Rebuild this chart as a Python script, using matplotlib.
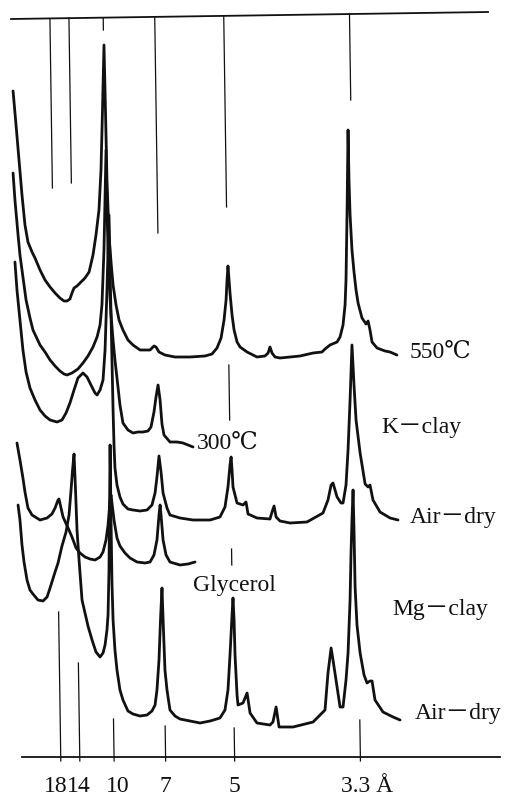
import numpy as np
import matplotlib
matplotlib.use("Agg")  # sem GUI
import matplotlib.pyplot as plt

# ===============================
# dados lidos da figura
# x = 2theta (graus, Cu Ka), y = intensidade (unid. arbitrarias)
# ===============================
LAMBDA_CU = 1.5418

# K-clay 550 C
k550_2t = [1.39, 1.61, 1.83, 2.05, 2.27, 2.49, 2.79, 3.01, 3.38, 3.75, 4.12, 4.49, 4.85, 5.15,
           5.37, 5.59, 5.74, 5.89, 6.11, 6.33, 6.70, 7.00, 7.29, 7.51, 7.73, 7.88, 7.99, 8.10,
           8.21, 8.32, 8.47, 8.62, 8.77, 8.99, 9.21, 9.50, 9.87, 10.24, 10.76, 11.50, 11.79,
           11.94, 12.16, 12.60, 13.34, 14.45, 15.56, 16.07, 16.44, 16.74, 16.96, 17.11, 17.18,
           17.25, 17.33, 17.40, 17.55, 17.70, 17.92, 18.14, 18.66, 19.39, 19.98, 20.21, 20.35,
           20.50, 20.72, 21.09, 21.83, 22.57, 23.53, 24.19, 24.41, 24.78, 25.30, 25.52, 25.74,
           25.89, 25.96, 26.04, 26.11, 26.18, 26.26, 26.40, 26.55, 26.70, 26.85, 27.14, 27.44,
           27.59, 27.73, 27.88, 28.25, 28.84, 29.21, 29.72]
k550_i = [266, 232, 197, 162, 132, 115, 105, 99, 87, 77, 70, 64, 59, 56,
          56, 58, 64, 69, 71, 74, 79, 85, 102, 122, 147, 187, 247, 312,
          247, 177, 122, 95, 72, 52, 37, 27, 17, 12, 7, 7, 11,
          10, 5, 2, 0, 0, 1, 3, 9, 19, 37, 57, 77,
          91, 77, 64, 42, 27, 15, 10, 5, 0, 1, 4, 10,
          4, 0, -1, 0, 1, 4, 5, 8, 12, 15, 20, 32,
          52, 77, 147, 227, 177, 142, 107, 85, 67, 54, 39, 33,
          36, 27, 15, 9, 6, 5, 2]

# K-clay 300 C
k300_2t = [1.39, 1.53, 1.76, 1.90, 2.05, 2.35, 2.64, 2.86, 3.38, 3.75, 4.12, 4.49, 4.85, 5.15,
           5.37, 5.74, 6.18, 6.55, 6.92, 7.29, 7.59, 7.81, 7.95, 8.10, 8.25, 8.36, 8.47, 8.62,
           8.77, 8.91, 9.06, 9.28, 9.50, 9.87, 10.24, 10.61, 10.98, 11.35, 11.57, 11.79, 11.94,
           12.09, 12.24, 12.38, 12.53, 12.97, 13.49, 13.93, 14.30, 14.67]
k300_i = [272, 245, 210, 190, 175, 145, 127, 115, 100, 93, 85, 79, 74, 71,
          70, 72, 76, 82, 89, 98, 108, 120, 140, 195, 295, 215, 165, 130,
          105, 85, 67, 40, 22, 15, 12, 13, 13, 14, 18, 33, 48,
          60, 45, 21, 10, 3, 3, 2, 0, -2]

# K-clay air-dry
kair_2t = [1.53, 1.68, 1.90, 2.12, 2.35, 2.64, 3.01, 3.38, 3.75, 4.12, 4.63, 5.00, 5.30, 5.59,
           5.89, 6.18, 6.55, 6.85, 7.14, 7.44, 7.59, 7.81, 8.03, 8.18, 8.32, 8.47, 8.58, 8.69,
           8.77, 8.84, 8.91, 9.06, 9.28, 9.50, 9.87, 10.24, 10.76, 11.28, 11.64, 11.87, 12.01,
           12.16, 12.31, 12.46, 12.75, 12.97, 13.71, 14.67, 15.93, 16.66, 17.03, 17.25, 17.40,
           17.48, 17.55, 17.62, 17.92, 18.36, 18.58, 18.73, 19.39, 20.35, 20.50, 20.65, 20.80,
           21.09, 21.83, 23.08, 24.26, 24.63, 24.86, 25.00, 25.15, 25.30, 25.59, 25.74, 25.96,
           26.11, 26.26, 26.40, 26.55, 26.70, 27.00, 27.37, 27.59, 27.73, 27.95, 28.47, 29.21,
           29.80]
kair_i = [258, 230, 200, 170, 148, 132, 120, 110, 104, 100, 98, 100, 107, 117,
          130, 142, 147, 143, 135, 127, 125, 130, 140, 170, 230, 305, 230, 160,
          110, 75, 52, 35, 23, 16, 11, 10, 9, 10, 15, 27, 43,
          64, 48, 27, 12, 5, 2, 0, 0, 3, 13, 33, 55,
          63, 50, 33, 17, 15, 18, 6, 2, 1, 8, 14, 3,
          -1, -3, -2, 7, 20, 35, 37, 30, 23, 17, 17, 35,
          70, 120, 175, 135, 100, 67, 36, 33, 35, 20, 8, 2,
          0]

# Mg-clay glycerol
mggly_2t = [1.68, 1.90, 2.12, 2.27, 2.49, 2.79, 3.38, 3.90, 4.26, 4.49, 4.71, 4.78, 4.93, 5.08,
            5.45, 5.74, 6.04, 6.33, 6.70, 7.07, 7.44, 7.81, 8.03, 8.25, 8.40, 8.55, 8.62, 8.69,
            8.84, 9.06, 9.28, 9.65, 10.02, 10.54, 11.13, 11.50, 11.79, 12.01, 12.16, 12.24,
            12.31, 12.46, 12.68, 12.97, 13.71, 14.30, 14.82]
mggly_i = [120, 103, 85, 71, 55, 48, 43, 45, 49, 55, 63, 64, 55, 46,
           35, 26, 15, 10, 6, 4, 3, 6, 11, 23, 38, 63, 68, 60,
           43, 25, 17, 10, 5, 1, 0, 1, 8, 23, 48, 58,
           48, 23, 8, 1, -2, -1, 1]

# Mg-clay air-dry
mgair_2t = [1.76, 1.90, 2.05, 2.20, 2.42, 2.64, 2.86, 3.23, 3.60, 3.90, 4.12, 4.49, 4.71, 5.00,
            5.30, 5.52, 5.67, 5.78, 5.89, 6.00, 6.11, 6.26, 6.48, 6.70, 6.92, 7.22, 7.51, 7.81,
            8.03, 8.18, 8.32, 8.40, 8.47, 8.55, 8.62, 8.69, 8.77, 8.91, 9.06, 9.28, 9.50, 9.87,
            10.24, 10.76, 11.28, 11.64, 11.87, 12.01, 12.16, 12.27, 12.38, 12.49, 12.60, 12.75,
            12.97, 13.34, 13.71, 14.45, 15.19, 15.93, 16.66, 17.03, 17.25, 17.40, 17.55, 17.62,
            17.70, 17.77, 17.92, 17.99, 18.36, 18.66, 18.88, 19.39, 20.35, 20.57, 20.80, 21.02,
            22.05, 23.53, 24.41, 24.63, 24.86, 25.00, 25.30, 25.52, 25.74, 25.96, 26.11, 26.26,
            26.33, 26.40, 26.48, 26.55, 26.63, 26.77, 27.00, 27.29, 27.51, 27.73, 27.88, 28.10,
            28.69, 29.43, 29.95]
mgair_i = [217, 202, 177, 160, 142, 132, 128, 122, 121, 125, 134, 150, 159, 176,
           190, 207, 232, 252, 268, 232, 192, 162, 122, 109, 96, 82, 70, 65,
           69, 77, 92, 107, 152, 277, 202, 139, 102, 72, 52, 32, 22, 11,
           8, 6, 7, 11, 17, 32, 62, 102, 134, 92, 52, 32,
           12, 6, 3, 1, -1, 1, 4, 12, 32, 67, 107, 124,
           102, 67, 27, 17, 19, 29, 9, -1, -3, 0, 15, -5,
           -5, 0, 12, 49, 74, 62, 35, 15, 15, 42, 69, 122,
           169, 202, 232, 192, 135, 97, 69, 47, 39, 41, 41, 22,
           10, 5, 2]

# deslocamento vertical de cada registro (linha de base)
trace_offsets = [442, 354, 279, 236, 77]

# linhas de referencia (d em Angstrom)
ref_d = [18, 14, 10, 7, 5, 3.3]
ref_labels = ["18", "14", "10", "7", "5", "3.3 Å"]
ref_label_dx = [-3.5, -0.5, 2.5, 0, 0, 4.5]   # pontos
ref_top_end = [611, 616, 769, 566, 592, 699]  # ponta inferior das linhas de cima
ref_bot_end = [187, 136, 80, 73, 71, 79]      # ponta superior das linhas de baixo
mid_ticks_5 = [(379, 434), (234, 250)]        # tracinhos em 5 A

labels = ["550℃", "300℃", "K－clay", "Air－dry", "Glycerol", "Mg－clay", "Air－dry"]
label_x = [30.68, 14.97, 28.55, 30.68, 14.67, 29.40, 31.06]
label_y = [447, 356, 371, 281, 213, 190, 85]

# ===============================
# conversoes
# ===============================
def d_to_2theta(d):
    return 2 * np.degrees(np.arcsin(LAMBDA_CU / (2 * np.asarray(d, dtype=float))))

SKEW = 0.8 / 740  # inclinacao do papel do registrador (graus por unidade y)
Y_BASE = 42

def skew_x(x, y):
    return x - (y - Y_BASE) * SKEW

# ===============================
# figura
# ===============================
FONT = ["Liberation Serif", "DejaVu Serif", "Noto Sans CJK JP"]
plt.rcParams["font.family"] = FONT

fig = plt.figure(figsize=(5.15, 7.99), dpi=100)
ax = fig.add_axes([0, 0, 1, 1])
ax.set_xlim(0.427, 38.43)
ax.set_ylim(0, 799)
ax.axis("off")

ink = "#111111"

traces = [
    (k550_2t, k550_i),
    (k300_2t, k300_i),
    (kair_2t, kair_i),
    (mggly_2t, mggly_i),
    (mgair_2t, mgair_i),
]
for (x, i), off in zip(traces, trace_offsets):
    ax.plot(x, np.asarray(i) + off, color=ink, lw=2.0, solid_joinstyle="round",
            solid_capstyle="round")

# eixos superior e inferior
ax.plot([1.24, 36.44], [780, 787], color=ink, lw=1.3)
ax.plot([2.05, 37.33], [Y_BASE, Y_BASE], color=ink, lw=1.3)

ref_2t = d_to_2theta(ref_d)
for t2, ytop, ybot, lab, dx in zip(ref_2t, ref_top_end, ref_bot_end, ref_labels, ref_label_dx):
    ytop_axis = 780 + 7 * (skew_x(t2, 783) - 1.24) / (36.44 - 1.24)
    ax.plot([skew_x(t2, ytop_axis), skew_x(t2, ytop)], [ytop_axis, ytop], color=ink, lw=0.9)
    ax.plot([skew_x(t2, ybot), skew_x(t2, 38)], [ybot, 38], color=ink, lw=0.9)
    ax.annotate(lab, (t2, 12), xytext=(dx, 0), textcoords="offset points",
                ha="center", va="center", fontsize=17, color=ink)

t5 = d_to_2theta(5)
for y0, y1 in mid_ticks_5:
    ax.plot([skew_x(t5, y0), skew_x(t5, y1)], [y0, y1], color=ink, lw=0.9)

for txt, x, y in zip(labels, label_x, label_y):
    ax.text(x, y, txt, ha="left", va="center", fontsize=17, color=ink)

fig.savefig("out.png", dpi=100)
plt.close(fig)
